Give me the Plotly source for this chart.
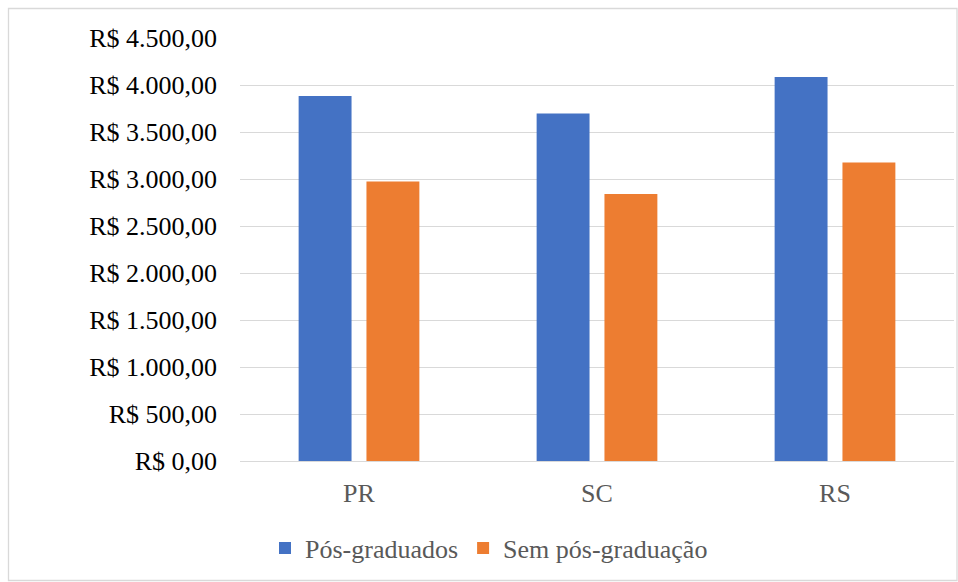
import plotly.graph_objects as go

# Average salary by state, with and without postgraduate degree
states = ["PR", "SC", "RS"]
pos_graduados = [3883, 3697, 4085]
sem_pos = [2973, 2840, 3176]

tick_values = [0, 500, 1000, 1500, 2000, 2500, 3000, 3500, 4000, 4500]
tick_labels = ["R$ 0,00", "R$ 500,00", "R$ 1.000,00", "R$ 1.500,00", "R$ 2.000,00",
               "R$ 2.500,00", "R$ 3.000,00", "R$ 3.500,00", "R$ 4.000,00", "R$ 4.500,00"]

BLUE = "#4472C4"
ORANGE = "#ED7D31"
GRID = "#D9D9D9"
FONT = "Liberation Serif"

fig = go.Figure()
fig.add_trace(go.Bar(x=states, y=pos_graduados, name="Pós-graduados",
                     marker=dict(color=BLUE, line=dict(width=0))))
fig.add_trace(go.Bar(x=states, y=sem_pos, name="Sem pós-graduação",
                     marker=dict(color=ORANGE, line=dict(width=0))))

W, H = 958, 582
L, R, T, B = 240, 4, 38, 121
pw, ph = W - L - R, H - T - B

def px_x(x):
    return (x - L) / pw

def px_y(y):
    return (H - B - y) / ph

fig.update_layout(
    width=W, height=H,
    margin=dict(l=L, r=R, t=T, b=B),
    paper_bgcolor="white", plot_bgcolor="white",
    barmode="group", bargap=0.43, bargroupgap=0.22,
    font=dict(family=FONT, size=26, color="#000000"),
    showlegend=True,
    legend=dict(orientation="h", x=px_x(489), xanchor="center",
                y=px_y(548), yanchor="middle",
                font=dict(family=FONT, size=26, color="#595959"),
                itemwidth=30, traceorder="normal", bgcolor="rgba(0,0,0,0)"),
    shapes=[dict(type="rect", xref="paper", yref="paper",
                 x0=px_x(8.5), x1=px_x(957), y0=px_y(580.5), y1=px_y(8.5),
                 line=dict(color=GRID, width=1.3), fillcolor="rgba(0,0,0,0)",
                 layer="below")],
)

fig.update_yaxes(range=[0, 4500], tickvals=tick_values, ticktext=tick_labels,
                 showgrid=True, gridcolor=GRID, gridwidth=1.3,
                 zeroline=True, zerolinecolor=GRID, zerolinewidth=1.3,
                 showline=False, ticks="", ticklabelstandoff=22,
                 tickfont=dict(family=FONT, size=26, color="#000000"))
fig.update_xaxes(showgrid=False, showline=False, ticks="", ticklabelstandoff=14,
                 tickfont=dict(family=FONT, size=26, color="#595959"))

fig.write_html("out.html")
